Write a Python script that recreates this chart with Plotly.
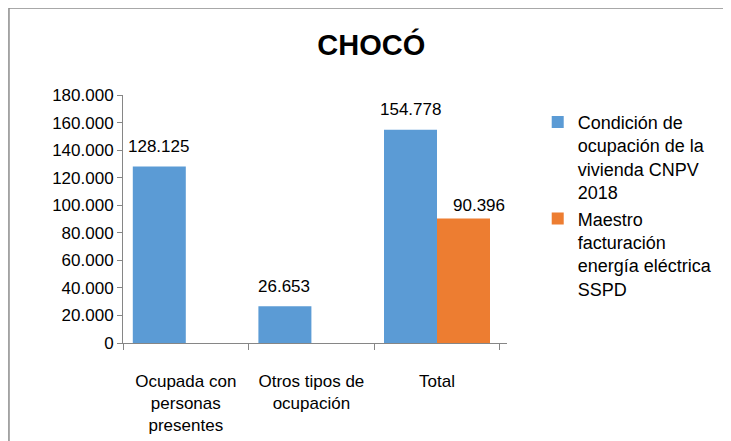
import plotly.graph_objects as go

categories = ["Ocupada con<br>personas<br>presentes", "Otros tipos de<br>ocupación", "Total"]
censo = [128125, 26653, 154778]
facturacion = [None, None, 90396]
series_names = [
    "Condición de<br>ocupación de la<br>vivienda CNPV<br>2018",
    "Maestro<br>facturación<br>energía eléctrica<br>SSPD",
]
y_ticks = [0, 20000, 40000, 60000, 80000, 100000, 120000, 140000, 160000, 180000]

BLUE = "#5B9BD5"
ORANGE = "#ED7D31"
FONT = "Liberation Sans"
AXIS = "#868686"


def fmt(v):
    return f"{v:,}".replace(",", ".")


fig = go.Figure()
fig.add_trace(go.Bar(x=categories, y=censo, name=series_names[0],
                     marker=dict(color=BLUE, line=dict(width=0))))
fig.add_trace(go.Bar(x=categories, y=facturacion, name=series_names[1],
                     marker=dict(color=ORANGE, line=dict(width=0))))

# data labels
for cat, v in zip(categories, censo):
    fig.add_annotation(x=cat, y=v, text=fmt(v), showarrow=False, xshift=-27, yshift=20,
                       font=dict(size=17, color="#000"))
for cat, v in zip(categories, facturacion):
    if v is not None:
        fig.add_annotation(x=cat, y=v, text=fmt(v), showarrow=False, xshift=42, yshift=13,
                           font=dict(size=17, color="#000"))

# outer chart border
fig.add_shape(type="rect", xref="paper", yref="paper", x0=-0.297, x1=2, y0=-1, y1=1.351,
              line=dict(color="#8c8c8c", width=1.5))

# page body has an 8px margin, so margins are reduced by 8 to compensate
fig.update_layout(
    width=731, height=441,
    margin=dict(l=115, r=232, t=87, b=106, autoexpand=False),
    paper_bgcolor="white", plot_bgcolor="white",
    separators=",.",
    barmode="group", bargap=0.156, bargroupgap=0,
    font=dict(family=FONT, size=17, color="#000"),
    title=dict(text="<b>CHOCÓ</b>", x=0.497, xanchor="center", xref="container",
               y=0.916, yanchor="middle",
               font=dict(family=FONT, size=29, color="#000")),
    showlegend=True,
    legend=dict(x=1.08, y=0.965, xanchor="left", yanchor="top", valign="top",
                font=dict(size=18), tracegroupgap=6, itemwidth=30,
                bgcolor="rgba(0,0,0,0)"),
    xaxis=dict(showline=True, linecolor=AXIS, linewidth=1, automargin=False,
               ticks="outside", tickson="boundaries", ticklen=6, tickcolor=AXIS,
               tickmode="array", tickvals=categories,
               ticktext=["<br>" + c for c in categories],
               tickfont=dict(size=17), showgrid=False),
    yaxis=dict(range=[0, 180000], tickvals=y_ticks, tickformat=",d", automargin=False,
               showline=True, linecolor=AXIS, linewidth=1,
               ticks="outside", ticklen=5, tickcolor=AXIS,
               # invisible padding to push labels away from the axis like Excel does
               ticksuffix='<span style="color:rgba(0,0,0,0)">0</span>',
               tickfont=dict(size=17), showgrid=False, zeroline=False),
)

fig.write_html("out.html")
